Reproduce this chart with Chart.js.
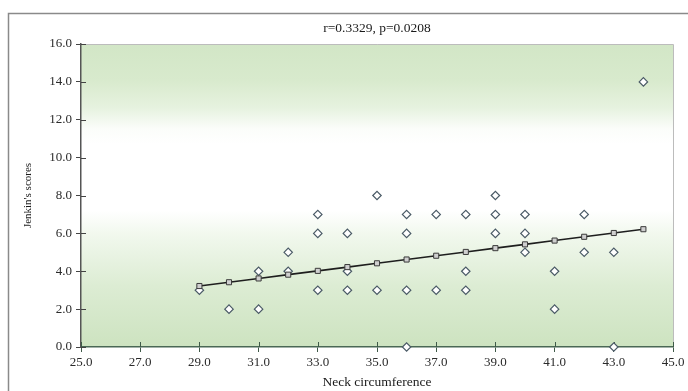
<!DOCTYPE html>
<html>
<head>
<meta charset="utf-8">
<script src="https://cdn.jsdelivr.net/npm/chart.js@4/dist/chart.umd.min.js"></script>
<style>
html,body{margin:0;padding:0;background:#fff;}
#wrap{width:688px;height:391px;position:relative;}
</style>
</head>
<body>
<div id="wrap"><canvas id="c" width="688" height="391"></canvas></div>
<script>
// ---- data ----
const chartTitle = "r=0.3329, p=0.0208";
const xAxisTitle = "Neck circumference";
const yAxisTitle = "Jenkin's scores";

const neckValues  = [29, 30, 31, 31, 32, 32, 33, 33, 33, 34, 34, 34, 35, 35, 36, 36, 36, 36, 37, 37, 38, 38, 38, 39, 39, 39, 40, 40, 40, 41, 41, 42, 42, 43, 43, 44];
const scoreValues = [3, 2, 4, 2, 5, 4, 7, 6, 3, 6, 4, 3, 8, 3, 7, 6, 3, 0, 7, 3, 7, 4, 3, 8, 7, 6, 7, 6, 5, 4, 2, 7, 5, 5, 0, 14];

const fitX = [29, 30, 31, 32, 33, 34, 35, 36, 37, 38, 39, 40, 41, 42, 43, 44];
const fitY = [3.22, 3.42, 3.62, 3.82, 4.02, 4.22, 4.42, 4.62, 4.82, 5.02, 5.22, 5.42, 5.62, 5.82, 6.02, 6.22];

const xMin = 25, xMax = 45, xStep = 2;
const yMin = 0, yMax = 16, yStep = 2;

// ---- build datasets ----
const scatterPts = neckValues.map((x, i) => ({x: x, y: scoreValues[i]}));
const fitPts = fitX.map((x, i) => ({x: x, y: fitY[i]}));

const serif = "'Liberation Serif', 'DejaVu Serif', serif";

const framePlugin = {
  id: 'frame',
  beforeDraw(chart) {
    const ctx = chart.ctx;
    const a = chart.chartArea;
    ctx.save();
    ctx.fillStyle = '#ffffff';
    ctx.fillRect(0, 0, chart.width, chart.height);
    // outer frame
    ctx.strokeStyle = '#8a8a8a';
    ctx.lineWidth = 1.5;
    ctx.strokeRect(8.5, 13.5, 700, 400);
    // plot gradient
    const g = ctx.createLinearGradient(0, a.top, 0, a.bottom);
    g.addColorStop(0.00, '#d2e6c6');
    g.addColorStop(0.12, '#d8eacd');
    g.addColorStop(0.21, '#e6f2df');
    g.addColorStop(0.28, '#fbfdfa');
    g.addColorStop(0.33, '#ffffff');
    g.addColorStop(0.55, '#ffffff');
    g.addColorStop(0.63, '#f1f8ed');
    g.addColorStop(0.80, '#dcecd3');
    g.addColorStop(1.00, '#cde3c0');
    ctx.fillStyle = g;
    ctx.fillRect(a.left, a.top, a.right - a.left, a.bottom - a.top);
    // top & right light border
    ctx.strokeStyle = '#bcbcbc';
    ctx.lineWidth = 1;
    ctx.beginPath();
    ctx.moveTo(a.left, a.top + 0.5);
    ctx.lineTo(a.right + 0.5, a.top + 0.5);
    ctx.lineTo(a.right + 0.5, a.bottom);
    ctx.stroke();
    ctx.restore();
  },
  beforeDatasetsDraw(chart) {
    // inner halves of tick marks
    const ctx = chart.ctx;
    const a = chart.chartArea;
    const xs = chart.scales.x, ys = chart.scales.y;
    ctx.save();
    ctx.lineWidth = 1;
    ctx.strokeStyle = '#3f5a48';
    xs.ticks.forEach(t => {
      const px = Math.round(xs.getPixelForValue(t.value)) + 0.5;
      ctx.beginPath(); ctx.moveTo(px, a.bottom); ctx.lineTo(px, a.bottom - 5); ctx.stroke();
    });
    ctx.strokeStyle = '#444';
    ys.ticks.forEach(t => {
      const py = Math.round(ys.getPixelForValue(t.value)) + 0.5;
      ctx.beginPath(); ctx.moveTo(a.left, py); ctx.lineTo(a.left + 5, py); ctx.stroke();
    });
    ctx.restore();
  }
};

new Chart(document.getElementById('c'), {
  type: 'scatter',
  data: {
    datasets: [
      {
        label: 'Fit',
        data: fitPts,
        showLine: true,
        borderColor: '#1e1e1e',
        borderWidth: 1.6,
        pointStyle: 'rect',
        pointRadius: 3.6,
        pointBackgroundColor: '#cfcfcf',
        pointBorderColor: '#3a3a3a',
        pointBorderWidth: 1,
        clip: false
      },
      {
        label: 'Scores',
        data: scatterPts,
        showLine: false,
        pointStyle: 'rectRot',
        pointRadius: 4.2,
        pointBackgroundColor: '#ffffff',
        pointBorderColor: '#4a5a66',
        pointBorderWidth: 1.2,
        clip: false
      }
    ]
  },
  options: {
    responsive: false,
    animation: false,
    devicePixelRatio: 1,
    layout: { padding: { left: 12, right: 15, top: 0, bottom: 0 } },
    plugins: {
      legend: { display: false },
      tooltip: { enabled: false },
      title: {
        display: true,
        text: chartTitle,
        fullSize: false,
        color: '#1a1a1a',
        font: { family: serif, size: 13.5, weight: 'normal', lineHeight: 1.2 },
        padding: { top: 20, bottom: 7.8 }
      }
    },
    scales: {
      x: {
        type: 'linear',
        min: xMin, max: xMax,
        afterFit(s) { s.height = 44; },
        ticks: {
          stepSize: xStep,
          padding: 3,
          color: '#2a2a2a',
          font: { family: serif, size: 13 },
          maxRotation: 0,
          callback: v => Number(v).toFixed(1)
        },
        grid: { drawOnChartArea: false, drawTicks: true, tickLength: 5, color: '#3f5a48' },
        border: { display: true, color: '#4a6855', width: 1.5 },
        title: {
          display: true, text: xAxisTitle, color: '#1a1a1a',
          font: { family: serif, size: 13.5, lineHeight: 1.2 },
          padding: { top: 0, bottom: 0 }
        }
      },
      y: {
        type: 'linear',
        min: yMin, max: yMax,
        afterFit(s) { s.width = 69; },
        ticks: {
          stepSize: yStep,
          padding: 4,
          color: '#2a2a2a',
          font: { family: serif, size: 13 },
          callback: v => Number(v).toFixed(1)
        },
        grid: { drawOnChartArea: false, drawTicks: true, tickLength: 5, color: '#444' },
        border: { display: true, color: '#555', width: 1.5 },
        title: {
          display: true, text: yAxisTitle, color: '#1a1a1a',
          font: { family: serif, size: 11, lineHeight: 1.2 },
          padding: { top: 9.5, bottom: 0 }
        }
      }
    }
  },
  plugins: [framePlugin]
});
</script>
</body>
</html>
